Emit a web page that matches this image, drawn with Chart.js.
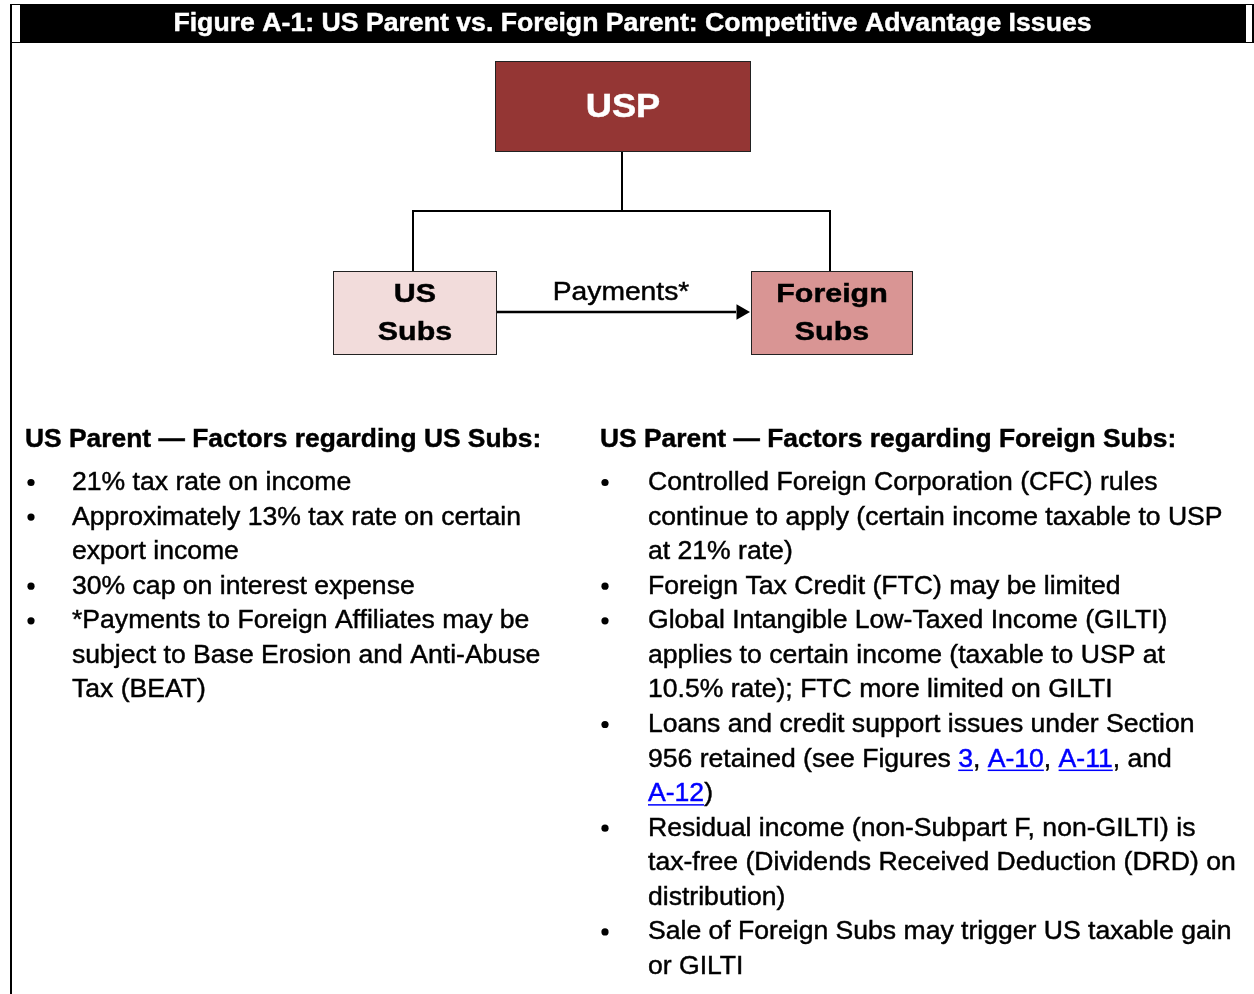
<!DOCTYPE html>
<html>
<head>
<meta charset="utf-8">
<script src="https://cdn.jsdelivr.net/npm/chart.js@4.4.1/dist/chart.umd.min.js"></script>
<style>
  html, body { margin: 0; padding: 0; background: #fff; }
  #wrap { width: 1254px; height: 994px; }
</style>
</head>
<body>
<div id="wrap"><canvas id="fig" width="1254" height="994"></canvas></div>
<script>
// text content of the figure
const figTitle = "Figure A-1: US Parent vs. Foreign Parent: Competitive Advantage Issues";
const boxLabels = [["USP"], ["US", "Subs"], ["Foreign", "Subs"]];
const arrowLabel = "Payments*";
const leftHeading = "US Parent \u2014 Factors regarding US Subs:";
const rightHeading = "US Parent \u2014 Factors regarding Foreign Subs:";
// each bullet is a list of lines; {..} marks blue underlined links
const leftBullets = [
  ["21% tax rate on income"],
  ["Approximately 13% tax rate on certain", "export income"],
  ["30% cap on interest expense"],
  ["*Payments to Foreign Affiliates may be", "subject to Base Erosion and Anti-Abuse", "Tax (BEAT)"]
];
const rightBullets = [
  ["Controlled Foreign Corporation (CFC) rules", "continue to apply (certain income taxable to USP", "at 21% rate)"],
  ["Foreign Tax Credit (FTC) may be limited"],
  ["Global Intangible Low-Taxed Income (GILTI)", "applies to certain income (taxable to USP at", "10.5% rate); FTC more limited on GILTI"],
  ["Loans and credit support issues under Section", "956 retained (see Figures {3}, {A-10}, {A-11}, and", "{A-12})"],
  ["Residual income (non-Subpart F, non-GILTI) is", "tax-free (Dividends Received Deduction (DRD) on", "distribution)"],
  ["Sale of Foreign Subs may trigger US taxable gain", "or GILTI"]
];

// layout
const boxes = [
  { x0: 495, x1: 751, y0: 61, y1: 152, fill: "#943634", color: "#ffffff", font: "bold 33px", hs: 1.1, base: [117] },
  { x0: 333, x1: 497, y0: 271, y1: 355, fill: "#f2dcdb", color: "#000000", font: "bold 26px", hs: 1.17, base: [302, 340] },
  { x0: 751, x1: 913, y0: 271, y1: 355, fill: "#d99594", color: "#000000", font: "bold 26px", hs: 1.17, base: [302, 340] }
];
const FONT = '"Liberation Sans", Arial, sans-serif';

// text with a horizontal stretch factor, lightly stroked to thicken it
function stretchText(ctx, txt, x, y, font, hs, align) {
  ctx.save();
  ctx.font = font + " " + FONT;
  ctx.textAlign = align || "left";
  ctx.textBaseline = "alphabetic";
  ctx.translate(x, y);
  ctx.scale(hs, 1);
  ctx.fillText(txt, 0, 0);
  ctx.strokeStyle = ctx.fillStyle;
  ctx.lineWidth = 0.45;
  ctx.strokeText(txt, 0, 0);
  const w = ctx.measureText(txt).width * hs;
  ctx.restore();
  return w;
}

const diagram = {
  id: "diagram",
  afterDatasetsDraw(chart) {
    const ctx = chart.ctx;
    const sx = v => chart.scales.x.getPixelForValue(v);
    const sy = v => chart.scales.y.getPixelForValue(v);
    ctx.save();

    // header bar and frame
    ctx.fillStyle = "#000";
    ctx.fillRect(sx(10), sy(4), sx(1254) - sx(10), sy(43) - sy(4));
    ctx.fillRect(sx(10), sy(43), 2, sy(994) - sy(43));
    ctx.fillStyle = "#fff";
    ctx.fillRect(sx(12), sy(5), sx(20) - sx(12), sy(42) - sy(5));
    ctx.fillRect(sx(1246), sy(5), sx(1252) - sx(1246), sy(42) - sy(5));
    stretchText(ctx, figTitle, sx(632.5), sy(31), "bold 26px", 1.025, "center");

    // boxes
    boxes.forEach((b, i) => {
      ctx.fillStyle = b.fill;
      ctx.fillRect(sx(b.x0), sy(b.y0), sx(b.x1) - sx(b.x0), sy(b.y1) - sy(b.y0));
      ctx.strokeStyle = "#222";
      ctx.lineWidth = 1;
      ctx.strokeRect(sx(b.x0) + 0.5, sy(b.y0) + 0.5, sx(b.x1) - sx(b.x0) - 1, sy(b.y1) - sy(b.y0) - 1);
      ctx.fillStyle = b.color;
      boxLabels[i].forEach((t, k) => {
        stretchText(ctx, t, sx((b.x0 + b.x1) / 2), sy(b.base[k]), b.font, b.hs, "center");
      });
    });

    // arrow label
    ctx.fillStyle = "#000";
    stretchText(ctx, arrowLabel, sx(621), sy(299.5), "25px", 1.13, "center");

    // bullet columns
    stretchText(ctx, leftHeading, sx(25), sy(447), "bold 26px", 1.015);
    stretchText(ctx, rightHeading, sx(600), sy(447), "bold 26px", 1.015);

    const drawColumn = (bullets, bx, tx) => {
      let y = 490;
      bullets.forEach(lines => {
        ctx.beginPath();
        ctx.arc(sx(bx), sy(y - 7.5), 3.6, 0, Math.PI * 2);
        ctx.fillStyle = "#000";
        ctx.fill();
        lines.forEach(line => {
          let x = sx(tx);
          line.split(/(\{[^}]*\})/).forEach(part => {
            if (!part) return;
            const isLink = part[0] === "{";
            const txt = isLink ? part.slice(1, -1) : part;
            ctx.fillStyle = isLink ? "#0000ff" : "#000";
            const w = stretchText(ctx, txt, x, sy(y), "26px", 1.022);
            if (isLink) ctx.fillRect(x, sy(y) + 3, w, 1.5);
            x += w;
          });
          y += 34.57;
        });
      });
    };
    drawColumn(leftBullets, 31, 72);
    drawColumn(rightBullets, 605, 648);
    ctx.restore();
  }
};

new Chart(document.getElementById("fig"), {
  type: "scatter",
  data: {
    datasets: [
      { // parent down to the branch bar
        data: [{ x: 622, y: 152 }, { x: 622, y: 211 }],
        showLine: true, borderColor: "#000", borderWidth: 2, pointRadius: 0
      },
      { // branch bar down to both subs
        data: [{ x: 413, y: 271 }, { x: 413, y: 211 }, { x: 830, y: 211 }, { x: 830, y: 271 }],
        showLine: true, borderColor: "#000", borderWidth: 2, pointRadius: 0
      },
      { // payments arrow shaft
        data: [{ x: 497, y: 312 }, { x: 736, y: 312 }],
        showLine: true, borderColor: "#000", borderWidth: 2.5, pointRadius: 0
      },
      { // arrow head
        data: [{ x: 741, y: 312 }],
        pointStyle: "triangle", rotation: 90, pointRadius: 9,
        backgroundColor: "#000", borderColor: "#000", borderWidth: 0
      }
    ]
  },
  options: {
    responsive: false,
    animation: false,
    layout: { padding: 0, autoPadding: false },
    plugins: { legend: { display: false }, tooltip: { enabled: false } },
    scales: {
      x: { type: "linear", min: 0, max: 1254, display: false },
      y: { type: "linear", min: 0, max: 994, reverse: true, display: false }
    }
  },
  plugins: [diagram]
});
</script>
</body>
</html>
